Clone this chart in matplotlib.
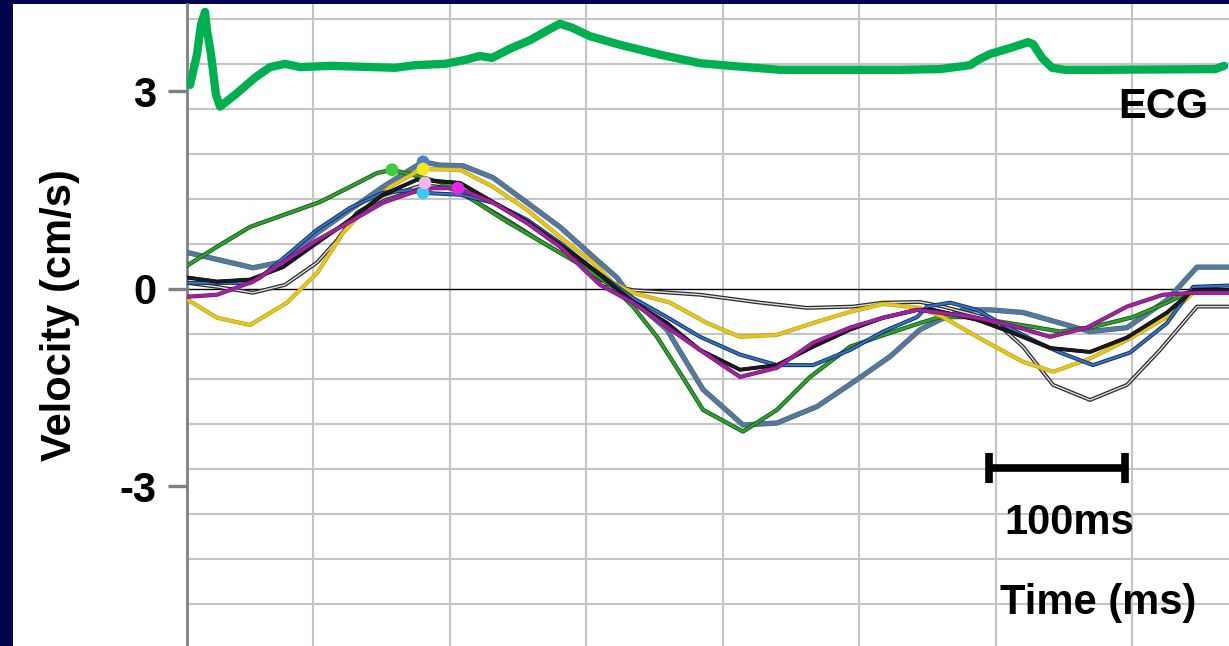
import matplotlib.pyplot as plt
import matplotlib.patheffects as pe
from matplotlib.patches import Rectangle

plt.rcParams["font.family"] = ["Liberation Sans", "DejaVu Sans"]

# ECG trace (time ms, arbitrary units on the velocity scale)
ecg_t = [9.9, 15.0, 17.9, 20.9, 22.3, 25.3, 28.9, 31.9, 42.9, 57.5, 68.5, 79.5, 90.5,
         112.5, 160.1, 174.7, 196.7, 211.4, 222.3, 231.1, 244.3, 259.0, 273.6, 280.9,
         289.7, 302.9, 324.9, 354.2, 383.5, 405.5, 442.1, 530.0, 559.3, 581.3, 587.2,
         596.0, 610.6, 623.8, 627.5, 634.1, 641.4, 650.9, 676.6, 760.8, 767.4]
ecg_v = [3.10, 3.56, 4.01, 4.21, 3.94, 3.56, 2.95, 2.77, 2.95, 3.21, 3.37, 3.42, 3.37,
         3.39, 3.36, 3.40, 3.42, 3.48, 3.54, 3.51, 3.65, 3.78, 3.95, 4.03,
         3.97, 3.84, 3.71, 3.56, 3.43, 3.39, 3.33, 3.33, 3.34, 3.40, 3.48,
         3.57, 3.66, 3.75, 3.72, 3.51, 3.36, 3.33, 3.33, 3.34, 3.39]

# velocity curves (time ms, cm/s)
yellow_t = [8.4, 29.7, 53.8, 81.0, 103.0, 122.0, 139.6, 156.4, 176.2, 180.6, 207.7, 231.9,
            256.8, 280.9, 305.1, 319.8, 334.4, 361.5, 388.6, 412.8, 439.9, 466.3, 493.4,
            517.6, 544.7, 561.5, 590.8, 620.1, 642.1, 667.0, 696.3, 725.6, 744.7, 771.0]
yellow_v = [-0.17, -0.44, -0.55, -0.21, 0.24, 0.85, 1.25, 1.55, 1.78, 1.82, 1.81, 1.55,
            1.20, 0.79, 0.40, 0.09, -0.06, -0.21, -0.52, -0.73, -0.70, -0.52, -0.35,
            -0.23, -0.29, -0.43, -0.78, -1.11, -1.26, -1.08, -0.78, -0.43, -0.06, -0.03]

slate_t = [8.4, 56.0, 78.0, 103.0, 127.1, 151.3, 171.1, 180.6, 193.0, 209.9, 231.9, 256.8,
           280.9, 305.1, 322.7, 334.4, 359.3, 371.1, 385.7, 415.0, 439.9, 469.2, 498.5,
           522.7, 544.7, 559.3, 576.2, 596.0, 620.1, 647.3, 669.2, 696.3, 725.6, 747.6, 771.0]
slate_v = [0.55, 0.32, 0.41, 0.85, 1.20, 1.55, 1.81, 1.93, 1.88, 1.87, 1.69, 1.31,
           0.94, 0.49, 0.17, -0.17, -0.62, -1.03, -1.53, -2.07, -2.04, -1.79, -1.38,
           -1.03, -0.62, -0.47, -0.32, -0.32, -0.36, -0.52, -0.65, -0.59, -0.17, 0.33, 0.33]

green_t = [8.4, 29.7, 53.8, 78.0, 105.1, 127.1, 146.9, 157.9, 180.6, 205.5, 217.2, 242.1,
           268.5, 293.4, 319.8, 334.4, 352.0, 368.9, 385.7, 415.0, 439.9, 464.1, 493.4,
           522.7, 544.7, 559.3, 579.1, 603.3, 627.5, 647.3, 671.4, 700.7, 725.6, 744.7, 771.0]
green_v = [0.36, 0.64, 0.94, 1.12, 1.32, 1.55, 1.76, 1.81, 1.69, 1.55, 1.35, 1.02,
           0.70, 0.40, 0.03, -0.27, -0.73, -1.28, -1.84, -2.17, -1.84, -1.34, -0.88,
           -0.67, -0.52, -0.43, -0.43, -0.50, -0.58, -0.65, -0.58, -0.43, -0.21, -0.02, -0.02]

magenta_t = [8.4, 29.7, 56.0, 78.0, 103.0, 127.1, 151.3, 173.3, 187.9, 206.2, 231.9, 256.8,
             280.9, 310.3, 334.4, 359.3, 383.5, 412.8, 439.9, 466.3, 493.4, 517.6, 542.5,
             554.2, 583.5, 610.6, 639.9, 667.0, 696.3, 722.7, 744.7, 771.0]
magenta_v = [-0.12, -0.09, 0.11, 0.40, 0.74, 1.02, 1.31, 1.47, 1.53, 1.53, 1.31, 1.00,
             0.64, 0.06, -0.21, -0.58, -0.93, -1.34, -1.20, -0.82, -0.59, -0.44, -0.32,
             -0.35, -0.43, -0.55, -0.73, -0.59, -0.27, -0.09, -0.06, -0.06]

black_t = [8.4, 29.7, 53.8, 78.0, 103.0, 127.1, 151.3, 176.2, 195.2, 207.7, 231.9, 256.8,
           280.9, 305.1, 334.4, 359.3, 383.5, 412.8, 439.9, 466.3, 493.4, 517.6,
           542.5, 554.2, 586.4, 612.8, 639.9, 669.2, 696.3, 725.6, 744.7, 771.0]
black_v = [0.17, 0.11, 0.14, 0.33, 0.70, 1.05, 1.43, 1.66, 1.63, 1.61, 1.32, 1.02,
           0.67, 0.30, -0.20, -0.52, -0.93, -1.23, -1.16, -0.88, -0.62, -0.44,
           -0.32, -0.32, -0.47, -0.67, -0.90, -0.96, -0.74, -0.36, -0.02, -0.02]

blue_t = [8.4, 53.8, 61.2, 83.2, 103.0, 127.1, 151.3, 171.1, 180.6, 207.7, 231.9, 256.8,
          280.9, 305.1, 334.4, 359.3, 383.5, 412.8, 439.9, 466.3, 493.4, 517.6,
          542.5, 549.8, 566.7, 586.4, 603.3, 627.5, 647.3, 671.4, 698.5, 725.6, 744.7, 771.0]
blue_v = [0.09, 0.09, 0.17, 0.55, 0.90, 1.23, 1.46, 1.50, 1.46, 1.43, 1.31, 1.05,
          0.70, 0.30, -0.14, -0.43, -0.73, -1.00, -1.16, -1.16, -0.93, -0.65,
          -0.43, -0.27, -0.21, -0.32, -0.52, -0.78, -0.97, -1.16, -0.97, -0.52, 0.03, 0.05]

gray_t = [8.4, 29.7, 56.0, 79.5, 103.0, 117.6, 132.2, 151.3, 176.2, 180.6, 200.4, 217.2,
          244.3, 268.5, 293.4, 310.3, 334.4, 383.5, 427.5, 461.9, 495.6, 517.6, 544.7,
          561.5, 598.2, 620.1, 642.1, 669.2, 696.3, 720.5, 747.6, 771.0]
gray_v = [0.09, 0.03, -0.06, 0.06, 0.40, 0.74, 1.16, 1.38, 1.55, 1.58, 1.53, 1.35,
          1.02, 0.70, 0.40, 0.09, -0.02, -0.09, -0.21, -0.29, -0.27, -0.21, -0.20,
          -0.27, -0.47, -0.88, -1.46, -1.69, -1.46, -0.93, -0.27, -0.27]

# peak markers: (time, velocity, colour)
peak_t = [157.9, 180.6, 180.6, 180.6, 182.0, 206.2]
peak_v = [1.81, 1.93, 1.82, 1.46, 1.61, 1.53]
peak_c = ["#3ccc3c", "#4a82c4", "#f5e61e", "#3cc8f0", "#f4b4f0", "#e628e6"]

y_ticks = [3, 0, -3]
scale_bar_start = 595
scale_bar_len = 100

fig = plt.figure(figsize=(12.29, 6.46), dpi=100, facecolor="#03034e")
panel = Rectangle((13 / 1229, 0), 1 - 13 / 1229, 1 - 4 / 646,
                  transform=fig.transFigure, facecolor="white",
                  edgecolor="none", zorder=-10)
fig.add_artist(panel)
ax = fig.add_axes([187 / 1229, 0, 1 - 187 / 1229, 1 - 4 / 646])
ax.set_zorder(1)
ax.set_facecolor("white")
ax.set_xlim(7.7, 771)
ax.set_ylim(-5.43, 4.33)

# background grid
for k in range(1, 8):
    ax.axvline(100 * k, color="#c4c4c4", linewidth=1.5, zorder=1)
for k in list(range(-7, 0)) + list(range(1, 7)):
    ax.axhline(0.684 * k, color="#c4c4c4", linewidth=1.5, zorder=1)
ax.axhline(0, color="black", linewidth=1.0, zorder=2)


def trace(t, v, colour, lw, edge, edge_lw):
    ax.plot(t, v, color=colour, linewidth=lw, zorder=3, solid_joinstyle="round",
            path_effects=[pe.Stroke(linewidth=edge_lw, foreground=edge), pe.Normal()])


trace(slate_t, slate_v, "#56799b", 3.0, "#3e5f80", 3.8)
trace(gray_t, gray_v, "#e0e0e0", 1.0, "#2a2a2a", 2.8)
trace(green_t, green_v, "#2f9f2f", 1.9, "#145a14", 3.1)
trace(yellow_t, yellow_v, "#e6c51e", 2.2, "#b49a10", 3.0)
trace(blue_t, blue_v, "#3474c8", 1.5, "#15305c", 2.9)
trace(black_t, black_v, "#1a1a1a", 2.4, "#000000", 2.8)
trace(magenta_t, magenta_v, "#a0229c", 2.2, "#6a1268", 3.0)

ax.scatter(peak_t, peak_v, s=85, c=peak_c, zorder=4, edgecolors="none")

ax.plot(ecg_t, ecg_v, color="#00b050", linewidth=6, zorder=5,
        solid_capstyle="round", solid_joinstyle="round")

# 100 ms scale bar
bar_y = -2.72
ax.plot([scale_bar_start, scale_bar_start + scale_bar_len], [bar_y, bar_y],
        color="black", linewidth=5.5, zorder=6, solid_capstyle="butt")
for xb in (scale_bar_start, scale_bar_start + scale_bar_len):
    ax.plot([xb, xb], [-2.5, -2.95], color="black", linewidth=5.5, zorder=6,
            solid_capstyle="butt")

txt_kw = dict(fontsize=30, fontweight="bold", ha="center", va="baseline", zorder=7)
ax.text(723, 2.6, "ECG", **txt_kw)
ax.text(scale_bar_start + scale_bar_len / 2 + 9, -3.72, "100ms", **txt_kw)
ax.text(675, -4.95, "Time (ms)", **txt_kw)

# axes styling
for side in ("top", "right", "bottom"):
    ax.spines[side].set_visible(False)
ax.spines["left"].set_color("#808080")
ax.spines["left"].set_linewidth(2)
ax.set_xticks([])
ax.set_yticks(y_ticks)
ax.set_yticklabels([str(v) for v in y_ticks], fontsize=30, fontweight="bold")
ax.tick_params(axis="y", length=14, width=2.4, color="#808080", pad=8)
ax.set_ylabel("Velocity (cm/s)", fontsize=30, fontweight="bold")
ax.yaxis.set_label_coords(-107 / 1042, 0.515)

fig.savefig("out.png", dpi=100, facecolor=fig.get_facecolor())
